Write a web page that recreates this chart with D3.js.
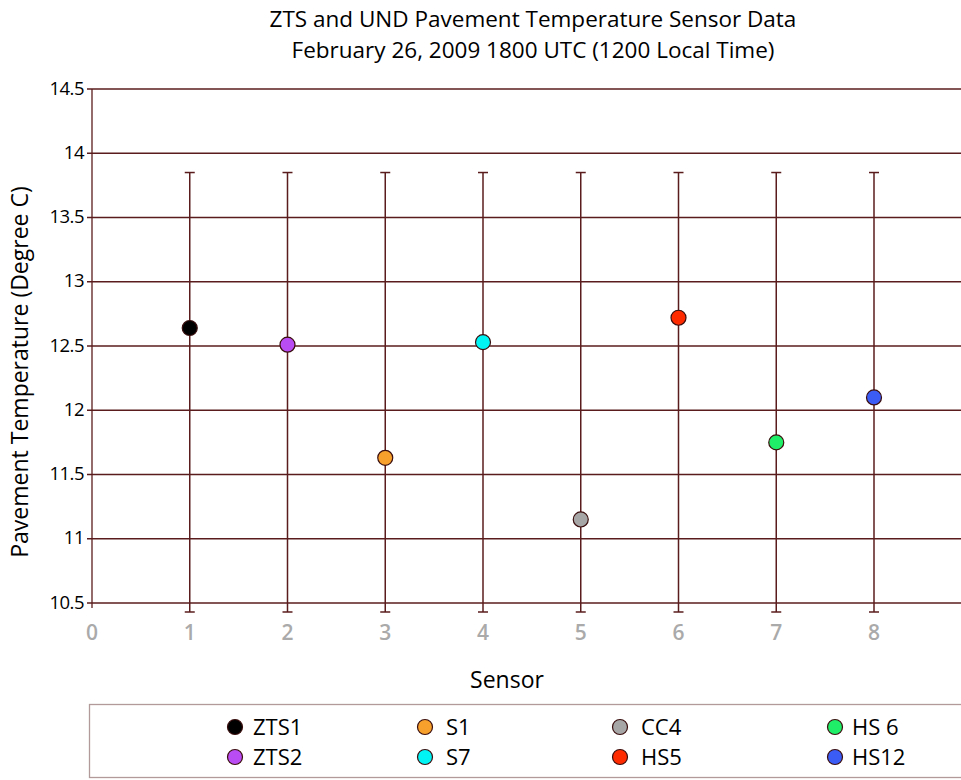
<!DOCTYPE html>
<html>
<head>
<meta charset="utf-8">
<script src="https://cdn.jsdelivr.net/npm/d3@7"></script>
<style>
  body { margin: 0; background: #fff; }
  text { font-family: "Open Sans", "DejaVu Sans", sans-serif; }
</style>
</head>
<body>
<script>
// data
const sensors = ["ZTS1", "ZTS2", "S1", "S7", "CC4", "HS5", "HS 6", "HS12"];
const sensorIndex = [1, 2, 3, 4, 5, 6, 7, 8];
const temps = [12.64, 12.51, 11.63, 12.53, 11.15, 12.72, 11.75, 12.10];
const errLow = [10.43, 10.43, 10.43, 10.43, 10.43, 10.43, 10.43, 10.43];
const errHigh = [13.85, 13.85, 13.85, 13.85, 13.85, 13.85, 13.85, 13.85];
const colors = ["#000000", "#b94cf2", "#f7a12c", "#00f4f4", "#a6a6a6", "#ff2b00", "#1fee68", "#3c5cf6"];
const yTicks = [10.5, 11, 11.5, 12, 12.5, 13, 13.5, 14, 14.5];
const xTicks = [0, 1, 2, 3, 4, 5, 6, 7, 8];
// legend order, by columns
const legendOrder = ["ZTS1", "ZTS2", "S1", "S7", "CC4", "HS5", "HS 6", "HS12"];

const W = 961, H = 780;
const gridColor = "#5a1c1c";

const svg = d3.select("body").append("svg")
  .attr("width", W)
  .attr("height", H);

const x = d3.scaleLinear().domain([0, 8.89]).range([92, 961]);
const y = d3.scaleLinear().domain([10.5, 14.5]).range([603, 89]);

// title
svg.append("text")
  .attr("x", 533).attr("y", 27)
  .attr("text-anchor", "middle")
  .attr("font-size", "22.5px")
  .text("ZTS and UND Pavement Temperature Sensor Data");
svg.append("text")
  .attr("x", 533).attr("y", 58)
  .attr("text-anchor", "middle")
  .attr("font-size", "22.5px")
  .text("February 26, 2009 1800 UTC (1200 Local Time)");

// horizontal grid lines
svg.append("g").selectAll("line")
  .data(yTicks)
  .enter().append("line")
    .attr("x1", x(0) - 5)
    .attr("x2", W)
    .attr("y1", d => y(d))
    .attr("y2", d => y(d))
    .attr("stroke", gridColor)
    .attr("stroke-width", 1.3);

// y axis line
svg.append("line")
  .attr("x1", x(0)).attr("x2", x(0))
  .attr("y1", y(14.5)).attr("y2", y(10.5) + 5)
  .attr("stroke", gridColor)
  .attr("stroke-width", 1.3);

// y tick labels
svg.append("g").selectAll("text")
  .data(yTicks)
  .enter().append("text")
    .attr("x", x(0) - 8)
    .attr("y", d => y(d))
    .attr("dy", "0.3em")
    .attr("text-anchor", "end")
    .attr("font-size", "18.5px")
    .attr("letter-spacing", "-0.5px")
    .text(d => d);

// x tick labels
svg.append("g").selectAll("text")
  .data(xTicks)
  .enter().append("text")
    .attr("x", d => x(d))
    .attr("y", 640)
    .attr("text-anchor", "middle")
    .attr("font-size", "21px")
    .attr("font-weight", "600")
    .attr("fill", "#aaaaaa")
    .text(d => d);

// axis labels
svg.append("text")
  .attr("x", 507).attr("y", 688)
  .attr("text-anchor", "middle")
  .attr("font-size", "23px")
  .text("Sensor");
svg.append("text")
  .attr("transform", `translate(28, 372) rotate(-90)`)
  .attr("text-anchor", "middle")
  .attr("font-size", "23px")
  .text("Pavement Temperature (Degree C)");

// error bars
const bars = svg.append("g").selectAll("g")
  .data(sensors.map((s, i) => ({ s, i })))
  .enter().append("g")
    .attr("stroke", gridColor)
    .attr("stroke-width", 1.5);
bars.append("line")
  .attr("x1", d => x(sensorIndex[d.i])).attr("x2", d => x(sensorIndex[d.i]))
  .attr("y1", d => y(errHigh[d.i])).attr("y2", d => y(errLow[d.i]));
bars.append("line")
  .attr("x1", d => x(sensorIndex[d.i]) - 5).attr("x2", d => x(sensorIndex[d.i]) + 5)
  .attr("y1", d => y(errHigh[d.i])).attr("y2", d => y(errHigh[d.i]));
bars.append("line")
  .attr("x1", d => x(sensorIndex[d.i]) - 5).attr("x2", d => x(sensorIndex[d.i]) + 5)
  .attr("y1", d => y(errLow[d.i])).attr("y2", d => y(errLow[d.i]));

// points
svg.append("g").selectAll("circle")
  .data(sensors.map((s, i) => i))
  .enter().append("circle")
    .attr("cx", i => x(sensorIndex[i]))
    .attr("cy", i => y(temps[i]))
    .attr("r", 7.5)
    .attr("fill", i => colors[i])
    .attr("stroke", "#3a0e0e")
    .attr("stroke-width", 1.2);

// legend
svg.append("rect")
  .attr("x", 89.5).attr("y", 704.5)
  .attr("width", 880).attr("height", 73)
  .attr("fill", "none")
  .attr("stroke", "#b39a9a")
  .attr("stroke-width", 1.3);

const colX = [235, 425, 620, 835];
const textOff = [18, 21, 21, 17];
const rowY = [727, 757];
const legend = svg.append("g").selectAll("g")
  .data(legendOrder)
  .enter().append("g")
    .attr("transform", (d, k) => `translate(${colX[Math.floor(k / 2)]}, ${rowY[k % 2]})`);
legend.append("circle")
  .attr("r", 7.5)
  .attr("fill", d => colors[sensors.indexOf(d)])
  .attr("stroke", "#3a0e0e")
  .attr("stroke-width", 1.2);
legend.append("text")
  .attr("x", (d, k) => textOff[Math.floor(k / 2)])
  .attr("dy", "0.36em")
  .attr("font-size", "22px")
  .text(d => d);
</script>
</body>
</html>
